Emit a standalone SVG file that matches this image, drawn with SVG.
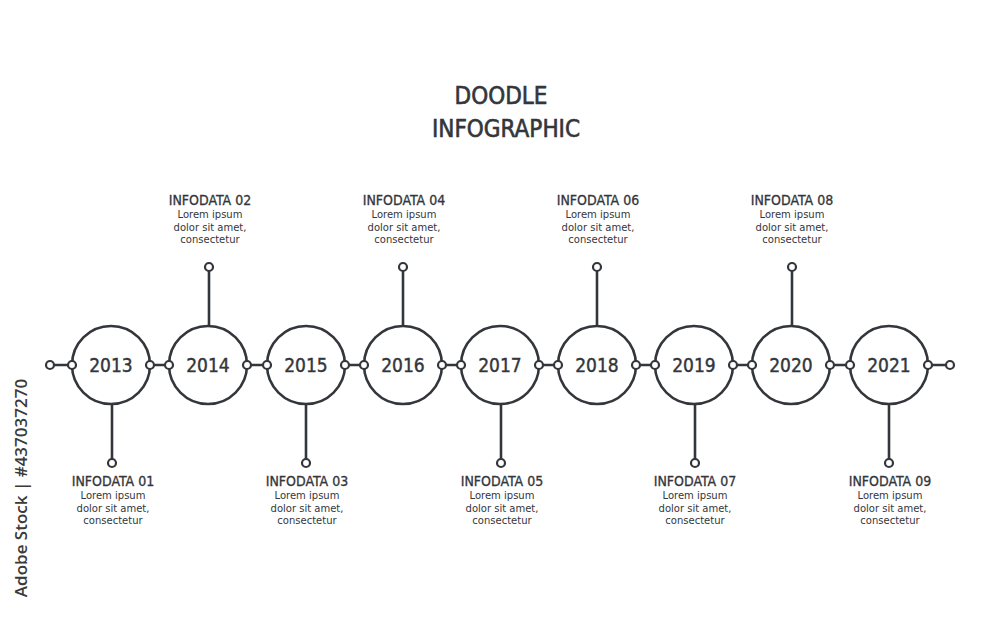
<svg xmlns="http://www.w3.org/2000/svg" width="1000" height="621" viewBox="0 0 1000 621">
<style>
.ln{stroke:#33363b;stroke-width:2.6;fill:none;stroke-linecap:round}
.big{stroke:#33363b;stroke-width:2.6;fill:#fff}
.dot{stroke:#33363b;stroke-width:2.2;fill:#fff}
.yr{font-family:"DejaVu Sans Condensed",sans-serif;font-size:19px;fill:#33363b;stroke:#33363b;stroke-width:0.4;text-anchor:middle}
.hd{font-family:"DejaVu Sans Condensed",sans-serif;font-size:14px;fill:#33363b;stroke:#33363b;stroke-width:0.3;text-anchor:middle}
.tx{font-family:"DejaVu Sans",sans-serif;font-size:10px;fill:#33363b;text-anchor:middle}
.ti{font-family:"DejaVu Sans Condensed",sans-serif;font-size:24px;fill:#33363b;stroke:#33363b;stroke-width:0.6;text-anchor:middle}
</style>
<rect width="1000" height="621" fill="#fff"/>
<g id="title">
<text class="ti" x="501" y="104">DOODLE</text>
<text class="ti" x="506" y="137">INFOGRAPHIC</text>
</g>
<g id="connectors">
<line class="ln" x1="50" y1="365" x2="950" y2="365"/>
<line class="ln" x1="112" y1="404" x2="112" y2="463"/>
<line class="ln" x1="209" y1="326" x2="209" y2="267"/>
<line class="ln" x1="306" y1="404" x2="306" y2="463"/>
<line class="ln" x1="403" y1="326" x2="403" y2="267"/>
<line class="ln" x1="501" y1="404" x2="501" y2="463"/>
<line class="ln" x1="597" y1="326" x2="597" y2="267"/>
<line class="ln" x1="695" y1="404" x2="695" y2="463"/>
<line class="ln" x1="792" y1="326" x2="792" y2="267"/>
<line class="ln" x1="889" y1="404" x2="889" y2="463"/>
<circle class="dot" cx="50" cy="365" r="4"/>
<circle class="dot" cx="950" cy="365" r="4"/>
<circle class="dot" cx="112" cy="463" r="4"/>
<circle class="dot" cx="209" cy="267" r="4"/>
<circle class="dot" cx="306" cy="463" r="4"/>
<circle class="dot" cx="403" cy="267" r="4"/>
<circle class="dot" cx="501" cy="463" r="4"/>
<circle class="dot" cx="597" cy="267" r="4"/>
<circle class="dot" cx="695" cy="463" r="4"/>
<circle class="dot" cx="792" cy="267" r="4"/>
<circle class="dot" cx="889" cy="463" r="4"/>
</g>
<g id="n2013"><circle class="big" cx="111" cy="365" r="39"/><circle class="dot" cx="72" cy="365" r="4"/><circle class="dot" cx="150" cy="365" r="4"/><text class="yr" x="111" y="372">2013</text>
<text class="hd" x="113" y="486">INFODATA 01</text><text class="tx" x="113" y="499">Lorem ipsum</text><text class="tx" x="113" y="511.5">dolor sit amet,</text><text class="tx" x="113" y="524">consectetur</text></g>
<g id="n2014"><circle class="big" cx="208" cy="365" r="39"/><circle class="dot" cx="169" cy="365" r="4"/><circle class="dot" cx="247" cy="365" r="4"/><text class="yr" x="208" y="372">2014</text>
<text class="hd" x="210" y="205">INFODATA 02</text><text class="tx" x="210" y="218">Lorem ipsum</text><text class="tx" x="210" y="230.5">dolor sit amet,</text><text class="tx" x="210" y="243">consectetur</text></g>
<g id="n2015"><circle class="big" cx="306" cy="365" r="39"/><circle class="dot" cx="267" cy="365" r="4"/><circle class="dot" cx="345" cy="365" r="4"/><text class="yr" x="306" y="372">2015</text>
<text class="hd" x="307" y="486">INFODATA 03</text><text class="tx" x="307" y="499">Lorem ipsum</text><text class="tx" x="307" y="511.5">dolor sit amet,</text><text class="tx" x="307" y="524">consectetur</text></g>
<g id="n2016"><circle class="big" cx="403" cy="365" r="39"/><circle class="dot" cx="364" cy="365" r="4"/><circle class="dot" cx="442" cy="365" r="4"/><text class="yr" x="403" y="372">2016</text>
<text class="hd" x="404" y="205">INFODATA 04</text><text class="tx" x="404" y="218">Lorem ipsum</text><text class="tx" x="404" y="230.5">dolor sit amet,</text><text class="tx" x="404" y="243">consectetur</text></g>
<g id="n2017"><circle class="big" cx="500" cy="365" r="39"/><circle class="dot" cx="461" cy="365" r="4"/><circle class="dot" cx="539" cy="365" r="4"/><text class="yr" x="500" y="372">2017</text>
<text class="hd" x="502" y="486">INFODATA 05</text><text class="tx" x="502" y="499">Lorem ipsum</text><text class="tx" x="502" y="511.5">dolor sit amet,</text><text class="tx" x="502" y="524">consectetur</text></g>
<g id="n2018"><circle class="big" cx="597" cy="365" r="39"/><circle class="dot" cx="558" cy="365" r="4"/><circle class="dot" cx="636" cy="365" r="4"/><text class="yr" x="597" y="372">2018</text>
<text class="hd" x="598" y="205">INFODATA 06</text><text class="tx" x="598" y="218">Lorem ipsum</text><text class="tx" x="598" y="230.5">dolor sit amet,</text><text class="tx" x="598" y="243">consectetur</text></g>
<g id="n2019"><circle class="big" cx="694" cy="365" r="39"/><circle class="dot" cx="655" cy="365" r="4"/><circle class="dot" cx="733" cy="365" r="4"/><text class="yr" x="694" y="372">2019</text>
<text class="hd" x="695" y="486">INFODATA 07</text><text class="tx" x="695" y="499">Lorem ipsum</text><text class="tx" x="695" y="511.5">dolor sit amet,</text><text class="tx" x="695" y="524">consectetur</text></g>
<g id="n2020"><circle class="big" cx="791" cy="365" r="39"/><circle class="dot" cx="752" cy="365" r="4"/><circle class="dot" cx="830" cy="365" r="4"/><text class="yr" x="791" y="372">2020</text>
<text class="hd" x="792" y="205">INFODATA 08</text><text class="tx" x="792" y="218">Lorem ipsum</text><text class="tx" x="792" y="230.5">dolor sit amet,</text><text class="tx" x="792" y="243">consectetur</text></g>
<g id="n2021"><circle class="big" cx="889" cy="365" r="39"/><circle class="dot" cx="850" cy="365" r="4"/><circle class="dot" cx="928" cy="365" r="4"/><text class="yr" x="889" y="372">2021</text>
<text class="hd" x="890" y="486">INFODATA 09</text><text class="tx" x="890" y="499">Lorem ipsum</text><text class="tx" x="890" y="511.5">dolor sit amet,</text><text class="tx" x="890" y="524">consectetur</text></g>
<text transform="translate(27,488) rotate(-90)" font-family="'Open Sans','DejaVu Sans',sans-serif" font-size="17" font-weight="600" fill="#3a3a3a" text-anchor="middle">Adobe Stock | #437037270</text>
</svg>
